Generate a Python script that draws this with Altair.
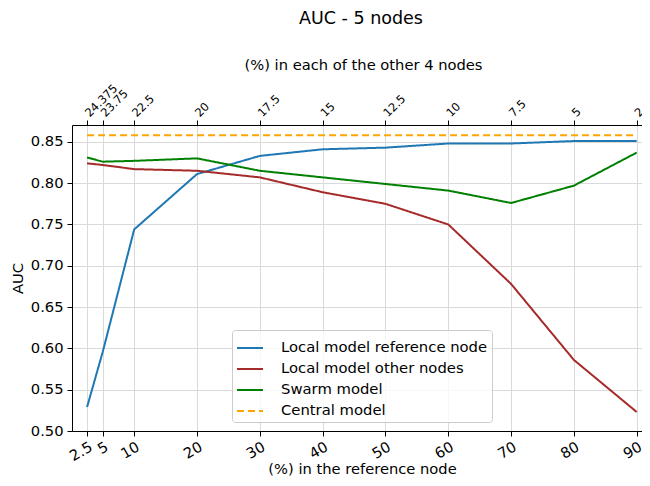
import altair as alt
import pandas as pd

# ---- data ----
x_ref = [2.5, 5, 10, 20, 30, 40, 50, 60, 70, 80, 90]
x_labels = ["2.5", "5", "10", "20", "30", "40", "50", "60", "70", "80", "90"]
top_labels = ["24.375", "23.75", "22.5", "20", "17.5", "15", "12.5", "10", "7.5", "5", "2.5"]
local_ref = [0.529, 0.596, 0.744, 0.811, 0.833, 0.841, 0.843, 0.848, 0.848, 0.851, 0.851]
local_other = [0.824, 0.822, 0.817, 0.815, 0.807, 0.789, 0.775, 0.750, 0.678, 0.586, 0.523]
swarm = [0.831, 0.826, 0.827, 0.830, 0.815, 0.807, 0.799, 0.791, 0.776, 0.797, 0.837]
central = [0.858] * len(x_ref)

series_names = ["Local model reference node", "Local model other nodes", "Swarm model", "Central model"]
series_colors = ["#1f77b4", "#a52a2a", "#008000", "#ffa500"]
series_dash = [[1, 0], [1, 0], [1, 0], [7, 4]]
y_ticks = [0.50, 0.55, 0.60, 0.65, 0.70, 0.75, 0.80, 0.85]

rows = []
for name, vals in zip(series_names, [local_ref, local_other, swarm, central]):
    for xv, yv in zip(x_ref, vals):
        rows.append({"x": xv, "auc": yv, "series": name})
df = pd.DataFrame(rows)

FONT = "DejaVu Sans"
W, H = 570, 306
LBL = 14.7
TTL = 14.7

x_scale = alt.Scale(domain=[0.1, 90.84], nice=False, zero=False)
y_scale = alt.Scale(domain=[0.5, 0.8704], nice=False, zero=False)

xs = ",".join(str(v) for v in x_ref)
bottom_expr = "[" + ",".join("'%s'" % t for t in x_labels) + "][indexof([" + xs + "], datum.value)]"
top_expr = "[" + ",".join("'%s'" % t for t in top_labels) + "][indexof([" + xs + "], datum.value)]"

bottom_axis = alt.Axis(
    values=x_ref, labelExpr=bottom_expr, title="(%) in the reference node",
    labelAngle=330, labelAlign="right", labelBaseline="top", labelPadding=3,
    labelFontSize=LBL, titleFontSize=TTL, tickSize=5, grid=True,
    titleX=290, titleY=38, titleBaseline="middle", labelOverlap=False,
)
top_axis = alt.Axis(
    orient="top", values=x_ref, labelExpr=top_expr, title="(%) in each of the other 4 nodes",
    labelAngle=315, labelAlign="left", labelBaseline="middle", labelPadding=5,
    labelFontSize=11.5, titleFontSize=TTL, tickSize=5, grid=False,
    titleX=291, titleY=-60, titleBaseline="middle", labelOverlap=False,
)
y_axis = alt.Axis(
    values=y_ticks, format=".2f", title="AUC", labelFontSize=LBL, titleFontSize=TTL,
    tickSize=5, labelPadding=4, grid=True, titleX=-54, titleY=H / 2,
    titleBaseline="middle", titleAlign="center",
)

lines = alt.Chart(df).mark_line(strokeWidth=2).encode(
    x=alt.X("x:Q", scale=x_scale, axis=bottom_axis),
    y=alt.Y("auc:Q", scale=y_scale, axis=y_axis),
    color=alt.Color("series:N", scale=alt.Scale(domain=series_names, range=series_colors),
                    legend=alt.Legend(title=None)),
    strokeDash=alt.StrokeDash("series:N", scale=alt.Scale(domain=series_names, range=series_dash),
                              legend=alt.Legend(title=None)),
)

top_layer = alt.Chart(df).mark_point(opacity=0).encode(
    x=alt.X("x:Q", scale=x_scale, axis=top_axis),
    y=alt.Y("auc:Q", scale=y_scale, axis=y_axis),
)

chart = alt.layer(lines, top_layer).resolve_axis(x="independent").properties(
    width=W, height=H,
    autosize=alt.AutoSizeParams(type="none"),
    padding={"left": 64, "top": 117, "right": 0, "bottom": 47},
    title=alt.TitleParams("AUC - 5 nodes", fontSize=17.5, font=FONT, fontWeight="normal",
                          color="black", anchor="middle", offset=30, dx=4),
).configure_view(
    strokeWidth=0
).configure_axis(
    labelFont=FONT, titleFont=FONT, labelColor="black", titleColor="black",
    titleFontWeight="normal", domainColor="black", domainWidth=1,
    tickColor="black", tickWidth=1, gridColor="#dadada", gridWidth=1,
).configure_legend(
    orient="none", legendX=160, legendY=205,
    fillColor="rgba(255,255,255,0.8)", strokeColor="#cccccc", cornerRadius=3,
    padding=4, labelFont=FONT, labelFontSize=14.8, labelColor="black", labelLimit=0,
    symbolType="stroke", symbolStrokeWidth=2, symbolSize=676,
    labelOffset=17, rowPadding=0,
)

chart.save("out.html", embed_options={"renderer": "svg", "actions": False})
